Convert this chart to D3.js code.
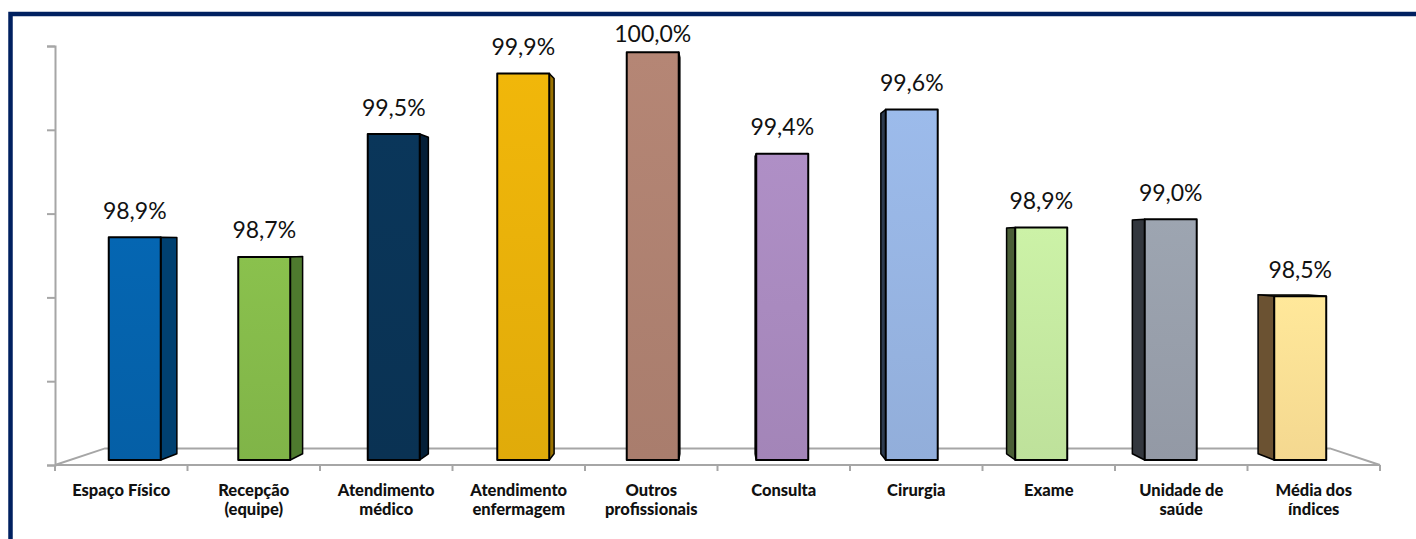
<!DOCTYPE html>
<html>
<head>
<meta charset="utf-8">
<script src="https://cdn.jsdelivr.net/npm/d3@7"></script>
<style>
  html, body { margin: 0; padding: 0; background: #fff; }
  svg { display: block; }
</style>
</head>
<body>
<svg id="chart" width="1416" height="539"></svg>
<script>
// ---- data ----
const categories = ["Espaço Físico", "Recepção (equipe)", "Atendimento médico", "Atendimento enfermagem",
  "Outros profissionais", "Consulta", "Cirurgia", "Exame", "Unidade de saúde", "Média dos índices"];
const categoryLines = [["Espaço Físico"], ["Recepção", "(equipe)"], ["Atendimento", "médico"],
  ["Atendimento", "enfermagem"], ["Outros", "profissionais"], ["Consulta"], ["Cirurgia"], ["Exame"],
  ["Unidade de", "saúde"], ["Média dos", "índices"]];
const values = [98.86, 98.74, 99.49, 99.86, 99.99, 99.37, 99.64, 98.92, 98.97, 98.50];
const frontColors = ["#0563ad", "#86bc4b", "#0a3457", "#eab20a", "#b08272", "#aa8bc0", "#98b6e4", "#c6eba2", "#99a0ac", "#ffe196"];
const sideColors  = ["#004070", "#4e7a2e", "#041f38", "#9a7200", "#5a4038", "#2a2030", "#2e3c50", "#4a5e36", "#33373e", "#6b5232"];
const yTicks = [97.5, 98.0, 98.5, 99.0, 99.5, 100.0];

// ---- layout ----
const svg = d3.select("#chart");
const defs = svg.append("defs");
const V = [717, 245];              // vanishing point
const zBarFront = 0.0227, kBar = 0.029, zFloor = 0.0755;

const x = d3.scaleBand().domain(categories).range([55, 1380]).paddingInner(0.5985).paddingOuter(0.299);
const xAxisScale = d3.scaleBand().domain(categories).range([55, 1380]).padding(0);
const y = d3.scaleLinear().domain([97.5, 100]).range([465, 46]);

const proj = (px, py, z) => [px + z * (V[0] - px), py + z * (V[1] - py)];

// ---- frame ----
svg.append("path")
  .attr("d", "M10.5,545 L10.5,14 L1425,14")
  .attr("fill", "none").attr("stroke", "#002060").attr("stroke-width", 4.5);

// ---- floor ----
const floorColor = "#a6a6a6";
const xl = 55, xr = 1380, yb = y(97.5);
const bl = proj(xl, yb, zFloor), br = proj(xr, yb, zFloor);
svg.append("path")
  .attr("d", `M${xl},${yb} L${bl[0]},${bl[1]} L${br[0]},${br[1]} L${xr},${yb}`)
  .attr("fill", "none").attr("stroke", floorColor).attr("stroke-width", 2);

// y axis (front plane) with ticks, no labels
const yAxis = svg.append("g").attr("transform", "translate(55,0)")
  .call(d3.axisLeft(y).tickValues(yTicks).tickSize(8).tickFormat(""));
yAxis.select(".domain").attr("stroke", floorColor).attr("stroke-width", 2);
yAxis.selectAll(".tick line").attr("stroke", floorColor).attr("stroke-width", 2);

// x axis (front edge) with boundary ticks
const xAxisG = svg.append("g");
xAxisG.append("line").attr("x1", xl).attr("x2", xr).attr("y1", yb).attr("y2", yb)
  .attr("stroke", floorColor).attr("stroke-width", 2);
const bounds = categories.map(c => xAxisScale(c)).concat([xr]);
xAxisG.selectAll("line.tk").data(bounds).enter().append("line")
  .attr("class", "tk")
  .attr("x1", d => d).attr("x2", d => d).attr("y1", yb).attr("y2", yb + 6)
  .attr("stroke", floorColor).attr("stroke-width", 2);

// ---- gradients ----
frontColors.forEach((c, i) => {
  const g = defs.append("linearGradient").attr("id", "g" + i).attr("x1", 0).attr("y1", 0).attr("x2", 0).attr("y2", 1);
  g.append("stop").attr("offset", "0%").attr("stop-color", d3.color(c).brighter(0.08));
  g.append("stop").attr("offset", "100%").attr("stop-color", d3.color(c).darker(0.12));
});

// ---- bars ----
const bars = svg.append("g");
const line = d3.line();
categories.forEach((cat, i) => {
  const v = values[i];
  const x0 = x(cat), x1 = x0 + x.bandwidth();
  const yt = y(v), ybot = y(97.5);
  const zb = zBarFront + kBar * (1 - zBarFront);
  const F = [proj(x0, yt, zBarFront), proj(x1, yt, zBarFront), proj(x1, ybot, zBarFront), proj(x0, ybot, zBarFront)];
  const B = [proj(x0, yt, zb), proj(x1, yt, zb), proj(x1, ybot, zb), proj(x0, ybot, zb)];
  const g = bars.append("g");
  const cx = (F[0][0] + F[1][0]) / 2;
  // top face (visible when top below vanishing y)
  if (F[0][1] > V[1]) {
    g.append("path").attr("d", line([F[0], F[1], B[1], B[0]]) + "Z")
      .attr("fill", d3.color(frontColors[i]).brighter(0.3)).attr("stroke", "#000").attr("stroke-width", 1.2).attr("stroke-linejoin", "round");
  }
  // side face
  if (cx < V[0]) {
    g.append("path").attr("d", line([F[1], B[1], B[2], F[2]]) + "Z")
      .attr("fill", sideColors[i]).attr("stroke", "#000").attr("stroke-width", 1.5).attr("stroke-linejoin", "round");
  } else {
    g.append("path").attr("d", line([B[0], F[0], F[3], B[3]]) + "Z")
      .attr("fill", sideColors[i]).attr("stroke", "#000").attr("stroke-width", 1.5).attr("stroke-linejoin", "round");
  }
  // front face
  g.append("path").attr("d", line(F) + "Z")
    .attr("fill", `url(#g${i})`).attr("stroke", "#000").attr("stroke-width", 2).attr("stroke-linejoin", "round");
  // value label (kept inside the chart area at the top)
  const fmt = d3.format(".1f");
  g.append("text")
    .attr("x", cx).attr("y", Math.max(F[0][1] - 18.5, 42))
    .attr("text-anchor", "middle")
    .attr("font-family", "Lato, 'Open Sans', sans-serif")
    .attr("font-size", 23)
    .attr("fill", "#111")
    .text(fmt(v).replace(".", ",") + "%");
});

// ---- category labels ----
const labels = svg.append("g");
categories.forEach((cat, i) => {
  const cx = xAxisScale(cat) + xAxisScale.bandwidth() / 2;
  const t = labels.append("text")
    .attr("text-anchor", "middle")
    .attr("font-family", "Lato, 'Open Sans', sans-serif")
    .attr("font-weight", "900")
    .attr("font-size", 16.5)
    .attr("fill", "#111");
  categoryLines[i].forEach((ln, j) => {
    t.append("tspan").attr("x", cx).attr("y", 496 + j * 19).text(ln);
  });
});
</script>
</body>
</html>
